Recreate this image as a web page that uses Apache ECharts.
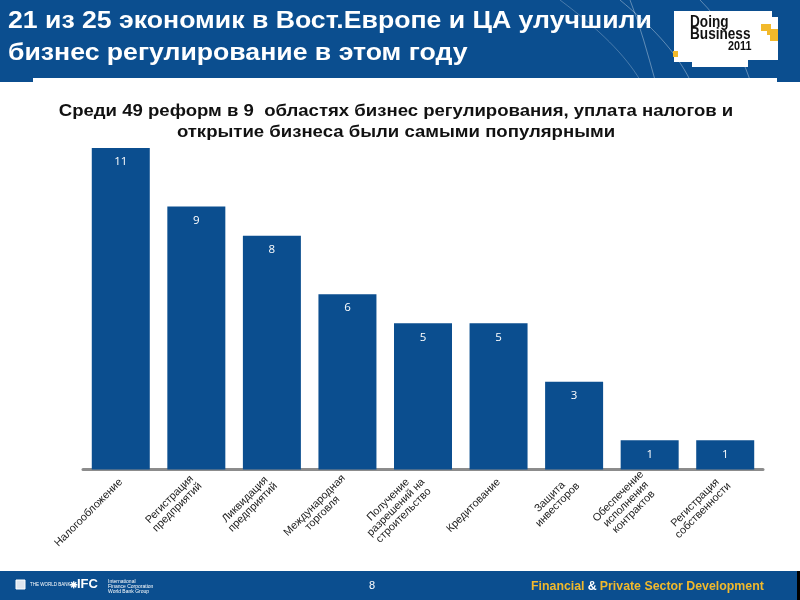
<!DOCTYPE html>
<html><head><meta charset="utf-8">
<script src="https://cdn.jsdelivr.net/npm/echarts@6/dist/echarts.min.js"></script>
<style>html,body{margin:0;padding:0;background:#fff}#c{width:800px;height:600px}</style>
</head><body><div id="c"></div>
<script>
const categories = ['Налогообложение','Регистрация\nпредприятий','Ликвидация\nпредприятий','Международная\nторговля','Получение\nразрешений на\nстроительство','Кредитование','Защита\nинвесторов','Обеспечение\nисполнения\nконтрактов','Регистрация\nсобственности'];
const values = [11, 9, 8, 6, 5, 5, 3, 1, 1];
const headerTitle = ['21 из 25 экономик в Вост.Европе и ЦА улучшили', 'бизнес регулирование в этом году'];
const chartTitle = 'Среди 49 реформ в 9  областях бизнес регулирования, уплата налогов и\nоткрытие бизнеса были самыми популярными';

const BLUE = '#0b4e8f';
const YEL = '#f2b92b';
const chart = echarts.init(document.getElementById('c'));
chart.setOption({
  animation: false,
  backgroundColor: '#fff',
  grid: {left: 83, right: 37, top: 148, bottom: 130.5},
  xAxis: {
    type: 'category', data: categories,
    axisLine: {lineStyle: {color: '#8c8c8c', width: 3}},
    axisTick: {show: false},
    axisLabel: {
      interval: 0, rotate: 45, margin: 11, color: '#222',
      formatter: function (v) { return v.split('\n').map(function (l) { return '{c|' + l + '}'; }).join('\n'); },
      rich: {c: {align: 'center', fontFamily: 'Liberation Sans, Arial', fontSize: 10.8, color: '#222', lineHeight: 11}}
    }
  },
  yAxis: {type: 'value', min: 0, max: 11, show: false, splitLine: {show: false}},
  series: [{
    type: 'bar', data: values, barWidth: 58,
    itemStyle: {color: BLUE},
    label: {show: true, position: 'insideTop', distance: 8, color: '#fff', fontSize: 11.5, fontFamily: 'Open Sans, DejaVu Sans'}
  }],
  graphic: [
    {type: 'rect', shape: {x: 0, y: 0, width: 800, height: 78}, style: {fill: BLUE}, z: -1},
    {type: 'rect', shape: {x: 0, y: 78, width: 33, height: 4}, style: {fill: BLUE}, z: -1},
    {type: 'rect', shape: {x: 777, y: 78, width: 23, height: 4}, style: {fill: BLUE}, z: -1},
    {type: 'bezierCurve', shape: {x1: 700, y1: 0, x2: 750, y2: 80, cpx1: 720, cpy1: 20, cpx2: 740, cpy2: 50}, style: {stroke: 'rgba(255,255,255,0.35)', lineWidth: 1, fill: null}},
    {type: 'bezierCurve', shape: {x1: 620, y1: 0, x2: 690, y2: 80, cpx1: 650, cpy1: 25, cpx2: 675, cpy2: 50}, style: {stroke: 'rgba(255,255,255,0.35)', lineWidth: 1, fill: null}},
    {type: 'bezierCurve', shape: {x1: 630, y1: 0, x2: 655, y2: 80, cpx1: 640, cpy1: 25, cpx2: 648, cpy2: 55}, style: {stroke: 'rgba(255,255,255,0.35)', lineWidth: 1, fill: null}},
    {type: 'bezierCurve', shape: {x1: 560, y1: 0, x2: 640, y2: 80, cpx1: 600, cpy1: 30, cpx2: 625, cpy2: 55}, style: {stroke: 'rgba(255,255,255,0.25)', lineWidth: 1, fill: null}},
    {type: 'text', x: 8, y: 9, scaleX: 1.11, style: {text: headerTitle[0], fill: '#fff', font: 'bold 24px "Liberation Sans", Arial'}},
    {type: 'text', x: 8, y: 41, scaleX: 1.11, style: {text: headerTitle[1], fill: '#fff', font: 'bold 24px "Liberation Sans", Arial'}},
    {type: 'text', x: 396, y: 101, scaleX: 1.16, style: {text: chartTitle, fill: '#111', align: 'center', lineHeight: 21, font: 'bold 16px "Liberation Sans", Arial'}},
    // Doing Business logo
    {type: 'polygon', shape: {points: [[674,11],[772,11],[772,17],[778,17],[778,60],[748,60],[748,67],[692,67],[692,62],[674,62]]}, style: {fill: '#fff'}},
    {type: 'rect', shape: {x: 761, y: 24, width: 10, height: 7}, style: {fill: YEL}},
    {type: 'rect', shape: {x: 767, y: 29, width: 11, height: 6}, style: {fill: YEL}},
    {type: 'rect', shape: {x: 770, y: 35, width: 8, height: 6}, style: {fill: YEL}},
    {type: 'rect', shape: {x: 673, y: 51, width: 5, height: 6}, style: {fill: YEL}},
    {type: 'text', x: 690, y: 15, scaleX: 0.85, style: {text: 'Doing', fill: '#111', font: 'bold 16px "Liberation Sans"'}},
    {type: 'text', x: 690, y: 27, scaleX: 0.85, style: {text: 'Business', fill: '#111', font: 'bold 16px "Liberation Sans"'}},
    {type: 'text', x: 728, y: 41, scaleX: 0.9, style: {text: '2011', fill: '#111', font: 'bold 12px "Liberation Sans"'}},
    // footer
    {type: 'rect', shape: {x: 0, y: 571, width: 797, height: 29}, style: {fill: BLUE}, z: -1},
    {type: 'rect', shape: {x: 797, y: 571, width: 3, height: 29}, style: {fill: '#000'}, z: -1},
    {type: 'rect', shape: {x: 16, y: 580, width: 9, height: 9}, style: {fill: '#dfe6ef', stroke: '#fff'}},
    {type: 'text', x: 30, y: 582, style: {text: 'THE WORLD BANK', fill: '#fff', font: '4.5px "Liberation Sans"'}},
    {type: 'text', x: 70, y: 578, style: {text: '\u2055IFC', fill: '#fff', font: 'bold 13px "Liberation Sans"'}},
    {type: 'text', x: 108, y: 579, style: {text: 'International\nFinance Corporation\nWorld Bank Group', fill: '#fff', font: '5px "Liberation Sans"', lineHeight: 5}},
    {type: 'text', x: 369, y: 580, style: {text: '8', fill: '#fff', font: '11px "Liberation Sans"'}},
    {type: 'text', x: 531, y: 580, scaleX: 0.95, style: {
      text: '{y|Financial} {w|&} {y|Private Sector Development}',
      rich: {y: {fill: YEL, font: 'bold 13px "Liberation Sans"'}, w: {fill: '#fff', font: 'bold 13px "Liberation Sans"'}}
    }}
  ]
});
</script>
</body></html>
